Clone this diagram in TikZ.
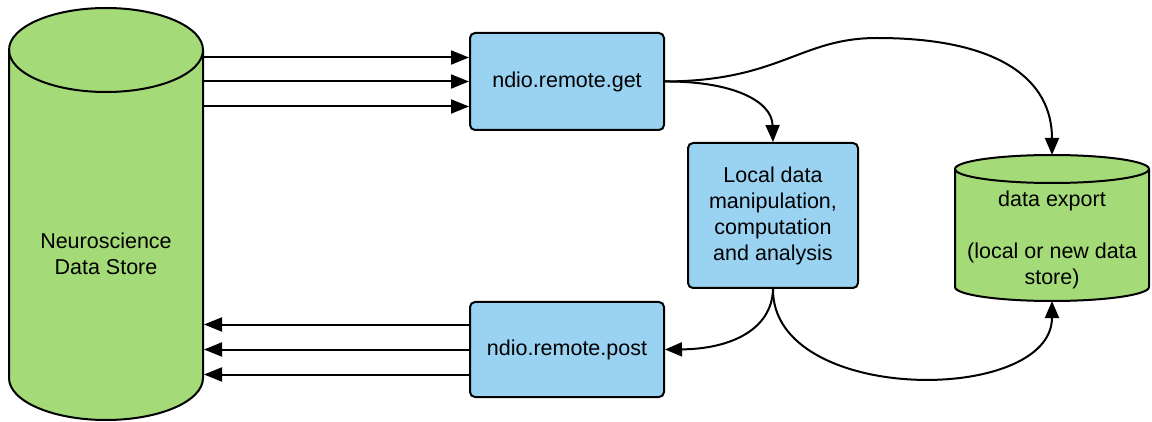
\documentclass[tikz,border=0pt]{standalone}
\usepackage{fontspec}
\setmainfont{Liberation Sans}
\usetikzlibrary{arrows.meta}
\definecolor{dgreen}{HTML}{A4DA78}
\definecolor{dblue}{HTML}{9AD2F2}
\begin{document}
\begin{tikzpicture}[x=1pt,y=-1pt,
  line width=2pt,
  every node/.style={font=\fontsize{21.5}{26}\selectfont, align=center},
  procbox/.style={draw, fill=dblue, rounded corners=5pt, inner sep=0pt},
  cyl/.style={draw, fill=dgreen},
  arr/.style={-{Triangle[length=18pt,width=14pt]}},
  carr/.style={-{Triangle[length=17pt,width=14pt]}}
]
\useasboundingbox (0,0) rectangle (1152,422);
% left cylinder
\path[cyl] (9,50) -- (9,378) arc[start angle=180,end angle=0,x radius=97,y radius=42]
  -- (203,50) arc[start angle=0,end angle=-180,x radius=97,y radius=42] -- cycle;
\draw (9,50) arc[start angle=180,end angle=0,x radius=97,y radius=42];
\node[minimum width=194pt, minimum height=330pt, inner sep=0pt] (store) at (106,254) {Neuroscience\\Data Store};
% right cylinder
\path[cyl] (955,169) -- (955,287) arc[start angle=180,end angle=0,x radius=97,y radius=14]
  -- (1149,169) arc[start angle=0,end angle=-180,x radius=97,y radius=14] -- cycle;
\draw (955,169) arc[start angle=180,end angle=0,x radius=97,y radius=14];
\node[minimum width=194pt, minimum height=146pt, inner sep=0pt] (export) at (1052,240) {data export\\[26pt](local or new data\\store)};
\coordinate (exptop) at (1052,155);
\coordinate (expbot) at (1052,301);
% boxes
\node[procbox, minimum width=194pt, minimum height=97pt] (get) at (567,81.5) {ndio.remote.get};
\node[procbox, minimum width=194pt, minimum height=95pt] (post) at (567,349.5) {ndio.remote.post};
\node[procbox, minimum width=170pt, minimum height=145pt] (local) at (773,215.5) {Local data\\manipulation,\\computation\\and analysis};
% straight arrows
\foreach \s in {24,0,-25}{
  \draw[arr] ([yshift=\s pt]get.west -| store.east) -- ([yshift=\s pt]get.west);
}
\foreach \s in {25,0,-25}{
  \draw[arr] ([yshift=\s pt]post.west) -- ([yshift=\s pt]post.west -| store.east);
}
% curves
\draw[carr] (get.east) .. controls (780,81) and (800,38) .. (877,38)
  .. controls (1000,38) and (1052,80) .. (exptop);
\draw[carr] (get.east) .. controls (730,81) and (772,100) .. (local.north);
\draw[carr] (local.south) .. controls (772,330) and (730,349) .. (post.east);
\draw[carr] (local.south) .. controls (772,405) and (1052,405) .. (expbot);
\end{tikzpicture}
\end{document}
